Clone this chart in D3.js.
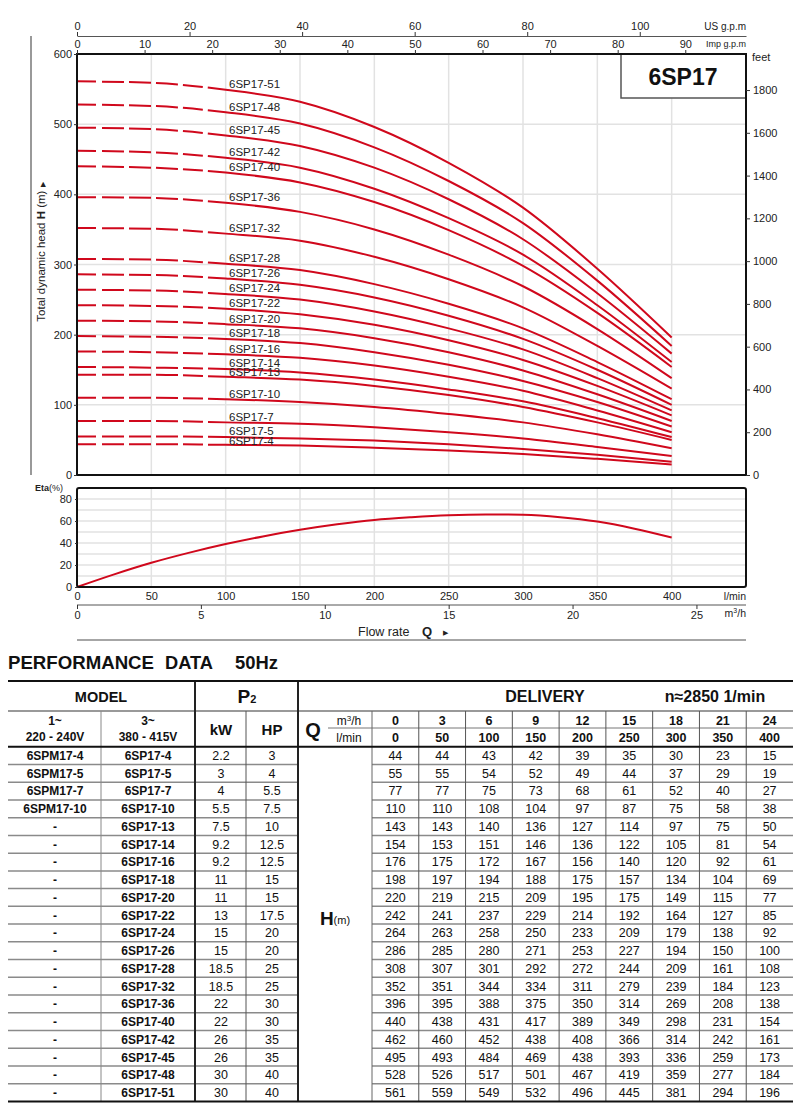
<!DOCTYPE html>
<html><head><meta charset="utf-8">
<script src="https://cdn.jsdelivr.net/npm/d3@7"></script>
<style>body{margin:0;background:#fff;} svg{display:block;font-family:"Liberation Sans",Arial,sans-serif;}</style>
</head><body><svg id="c" width="800" height="1119"></svg>
<script>
// ---------- DATA ----------
const flowLmin = [0,50,100,150,200,250,300,350,400];
const flowM3h = [0,3,6,9,12,15,18,21,24];
const models1 = ["6SPM17-4","6SPM17-5","6SPM17-7","6SPM17-10","-","-","-","-","-","-","-","-","-","-","-","-","-","-","-","-"];
const models3 = ["6SP17-4","6SP17-5","6SP17-7","6SP17-10","6SP17-13","6SP17-14","6SP17-16","6SP17-18","6SP17-20","6SP17-22","6SP17-24","6SP17-26","6SP17-28","6SP17-32","6SP17-36","6SP17-40","6SP17-42","6SP17-45","6SP17-48","6SP17-51"];
const powerKW = ["2.2","3","4","5.5","7.5","9.2","9.2","11","11","13","15","15","18.5","18.5","22","22","26","26","30","30"];
const powerHP = ["3","4","5.5","7.5","10","12.5","12.5","15","15","17.5","20","20","25","25","30","30","35","35","40","40"];
const heads = [
 [44,44,43,42,39,35,30,23,15],
 [55,55,54,52,49,44,37,29,19],
 [77,77,75,73,68,61,52,40,27],
 [110,110,108,104,97,87,75,58,38],
 [143,143,140,136,127,114,97,75,50],
 [154,153,151,146,136,122,105,81,54],
 [176,175,172,167,156,140,120,92,61],
 [198,197,194,188,175,157,134,104,69],
 [220,219,215,209,195,175,149,115,77],
 [242,241,237,229,214,192,164,127,85],
 [264,263,258,250,233,209,179,138,92],
 [286,285,280,271,253,227,194,150,100],
 [308,307,301,292,272,244,209,161,108],
 [352,351,344,334,311,279,239,184,123],
 [396,395,388,375,350,314,269,208,138],
 [440,438,431,417,389,349,298,231,154],
 [462,460,452,438,408,366,314,242,161],
 [495,493,484,469,438,393,336,259,173],
 [528,526,517,501,467,419,359,277,184],
 [561,559,549,532,496,445,381,294,196]
];
const etaQ = [0,25,50,75,100,125,150,175,200,225,250,275,300,325,350,375,400];
const etaVal = [0,11.5,22,31,39,46,52,57,61,63.5,65.3,66,65.6,63.5,59.5,53,45];
const headTicks = [0,100,200,300,400,500,600];
const feetTicks = [0,200,400,600,800,1000,1200,1400,1600,1800];
const usTicks = [0,20,40,60,80,100];
const impTicks = [0,10,20,30,40,50,60,70,80,90];
const lminTicks = [0,50,100,150,200,250,300,350,400];
const m3hTicks = [0,5,10,15,20,25];
const etaTicks = [0,20,40,60,80];
const etaGrid = [10,20,30,40,50,60,70,80];

// ---------- SETUP ----------
const svg = d3.select("#c");
const RED = "#d0081c";
const X0 = 77, X1 = 746;
const x = d3.scaleLinear().domain([0,450]).range([X0,X1]);
const y = d3.scaleLinear().domain([0,600]).range([475,54]);
const yFt = d3.scaleLinear().domain([0,600/0.3048]).range([475,54]);
const xUS = d3.scaleLinear().domain([0,450/3.78541]).range([X0,X1]);
const xImp = d3.scaleLinear().domain([0,450/4.54609]).range([X0,X1]);
const xM3 = d3.scaleLinear().domain([0,27]).range([X0,X1]);
const yEta = d3.scaleLinear().domain([0,90]).range([587,488]);
const fmt = d3.format("d");

function styleAxis(g, size){
  g.selectAll("text").attr("font-size", size||11).attr("fill","#222").attr("font-family","Liberation Sans, Arial, sans-serif");
  g.selectAll("line").attr("stroke","#333");
  g.selectAll("path.domain").attr("stroke","#333");
}

// ---------- MAIN GRID ----------
const grid = svg.append("g").attr("stroke","#e2e2e2").attr("stroke-width",1.5);
grid.selectAll("line.v").data(lminTicks.slice(1)).join("line").attr("class","v")
  .attr("x1",d=>x(d)).attr("x2",d=>x(d)).attr("y1",54).attr("y2",475);
grid.selectAll("line.h").data(headTicks.slice(1,-1)).join("line").attr("class","h")
  .attr("x1",X0).attr("x2",X1).attr("y1",d=>y(d)).attr("y2",d=>y(d));

// ---------- CURVES ----------
const line = d3.line().x((d,i)=>x(flowLmin[i])).y(d=>y(d)).curve(d3.curveMonotoneX);
svg.append("g").selectAll("path").data(heads).join("path")
  .attr("d",line).attr("fill","none").attr("stroke",RED).attr("stroke-width",2)
  .attr("stroke-dasharray","19,6,22,5,22,5,22,5,20,5,3000");
const labelNudge = {"6SP17-4":1.2,"6SP17-5":-1,"6SP17-13":1.2,"6SP17-14":-1};
svg.append("g").selectAll("text").data(models3).join("text")
  .attr("x",229).attr("y",(d,i)=>y(heads[i][2])-1.5+(labelNudge[d]||0))
  .attr("font-size",11.5).attr("fill","#222").text(d=>d);

// ---------- BOX ----------
svg.append("rect").attr("x",621).attr("y",54).attr("width",125).attr("height",44)
  .attr("fill","#fff").attr("stroke","#555").attr("stroke-width",1.5);
svg.append("text").attr("x",683).attr("y",85).attr("text-anchor","middle")
  .attr("font-size",23).attr("font-weight","bold").attr("fill","#111").text("6SP17");

// frame
svg.append("rect").attr("x",X0).attr("y",54).attr("width",X1-X0).attr("height",421)
  .attr("fill","none").attr("stroke","#111").attr("stroke-width",2);

// ---------- AXES MAIN ----------
const gl = svg.append("g").attr("transform",`translate(${X0},0)`)
  .call(d3.axisLeft(y).tickValues(headTicks).tickFormat(fmt).tickSize(3).tickPadding(2));
gl.select(".domain").remove(); styleAxis(gl,11);
const gr = svg.append("g").attr("transform",`translate(${X1},0)`)
  .call(d3.axisRight(yFt).tickValues(feetTicks).tickFormat(fmt).tickSize(4).tickPadding(3));
gr.select(".domain").remove(); styleAxis(gr,11);
svg.append("text").attr("x",752).attr("y",61).attr("font-size",11).attr("fill","#222").text("feet");

const gu = svg.append("g").attr("transform","translate(0,36)")
  .call(d3.axisTop(xUS).tickValues(usTicks).tickFormat(fmt).tickSize(4).tickSizeOuter(0).tickPadding(2));
styleAxis(gu,11); gu.select(".domain").attr("stroke","#555");
svg.append("text").attr("x",746).attr("y",30).attr("text-anchor","end").attr("font-size",10).attr("fill","#222").text("US g.p.m");
const gi = svg.append("g").attr("transform","translate(0,54)")
  .call(d3.axisTop(xImp).tickValues(impTicks).tickFormat(fmt).tickSize(4).tickSizeOuter(0).tickPadding(2));
gi.select(".domain").remove(); styleAxis(gi,11);
svg.append("text").attr("x",746).attr("y",47).attr("text-anchor","end").attr("font-size",9).attr("fill","#222").text("Imp g.p.m");

// left side label + line
svg.append("line").attr("x1",31).attr("x2",31).attr("y1",36).attr("y2",475).attr("stroke","#777").attr("stroke-width",1.5);
const yl = svg.append("text").attr("transform","translate(45,252) rotate(-90)").attr("text-anchor","middle")
  .attr("font-size",11.5).attr("fill","#222");
yl.append("tspan").text("Total dynamic head ");
yl.append("tspan").attr("font-weight","bold").text("H");
yl.append("tspan").text(" (m) ");
yl.append("tspan").attr("font-size",7).text("▶");

// ---------- ETA CHART ----------
const eg = svg.append("g").attr("stroke","#e2e2e2").attr("stroke-width",1.5);
eg.selectAll("line.v").data(lminTicks.slice(1)).join("line").attr("class","v")
  .attr("x1",d=>x(d)).attr("x2",d=>x(d)).attr("y1",488).attr("y2",587);
eg.selectAll("line.h").data(etaGrid).join("line").attr("class","h")
  .attr("x1",X0).attr("x2",X1).attr("y1",d=>yEta(d)).attr("y2",d=>yEta(d));
const etaLine = d3.line().x((d,i)=>x(etaQ[i])).y(d=>yEta(d)).curve(d3.curveMonotoneX);
svg.append("path").datum(etaVal).attr("d",etaLine).attr("fill","none").attr("stroke",RED).attr("stroke-width",2);
svg.append("rect").attr("x",X0).attr("y",488).attr("width",X1-X0).attr("height",99).attr("rx",2)
  .attr("fill","none").attr("stroke","#111").attr("stroke-width",2);
const ge = svg.append("g").attr("transform",`translate(${X0},0)`)
  .call(d3.axisLeft(yEta).tickValues(etaTicks).tickSize(2).tickPadding(3));
ge.select(".domain").remove(); styleAxis(ge,11);
const et = svg.append("text").attr("x",35).attr("y",491).attr("font-size",9).attr("fill","#222");
et.append("tspan").attr("font-weight","bold").text("Eta");
et.append("tspan").text("(%)");

const gb = svg.append("g").attr("transform","translate(0,587)")
  .call(d3.axisBottom(x).tickValues(lminTicks).tickSize(0).tickPadding(5));
gb.select(".domain").remove(); styleAxis(gb,11);
svg.append("text").attr("x",746).attr("y",600).attr("text-anchor","end").attr("font-size",10.5).attr("fill","#222").text("l/min");
const gm = svg.append("g").attr("transform","translate(0,605)")
  .call(d3.axisBottom(xM3).tickValues(m3hTicks).tickSize(4).tickSizeOuter(0).tickPadding(2));
styleAxis(gm,11); gm.select(".domain").attr("stroke","#555").attr("d",`M${X0},0H${X1}`);
const mh = svg.append("text").attr("x",746).attr("y",617).attr("text-anchor","end").attr("font-size",10.5).attr("fill","#222");
mh.append("tspan").text("m");
mh.append("tspan").attr("font-size",7).attr("dy",-4).text("3");
mh.append("tspan").attr("dy",4).text("/h");
const fr = svg.append("text").attr("x",358).attr("y",636).attr("font-size",12.5).attr("fill","#222");
fr.append("tspan").text("Flow  rate");
fr.append("tspan").attr("x",422).attr("font-weight","bold").attr("font-size",13).text("Q");
fr.append("tspan").attr("x",443).attr("font-size",7).attr("dy",-1).text("▶");
svg.append("line").attr("x1",X0).attr("x2",X1).attr("y1",640).attr("y2",640).attr("stroke","#888").attr("stroke-width",1.5);

// ---------- TABLE ----------
const t = svg.append("g");
function ttlPart(xp, s, len){
  t.append("text").attr("x",xp).attr("y",669).attr("font-size",18.5).attr("font-weight","bold").attr("fill","#111")
    .attr("textLength",len).attr("lengthAdjust","spacingAndGlyphs").text(s);
}
ttlPart(8,"PERFORMANCE",146);
ttlPart(165,"DATA",48);
ttlPart(235,"50Hz",43);

const TL = 8, TR = 793, T0 = 681, T1 = 711, T2 = 746.7, TB = 1101.5;
const rowH = (TB-T2)/models3.length;
const nx0 = 372, nW = (TR-nx0)/flowLmin.length;
const colC = i => nx0 + (i+0.5)*nW;

function hl(y,x1,x2,c,w){ t.append("line").attr("x1",x1).attr("x2",x2).attr("y1",y).attr("y2",y).attr("stroke",c).attr("stroke-width",w); }
function vl(xp,y1,y2,c,w){ t.append("line").attr("x1",xp).attr("x2",xp).attr("y1",y1).attr("y2",y2).attr("stroke",c).attr("stroke-width",w); }

d3.range(1,models3.length).forEach(i=>{
  const yy = T2 + i*rowH;
  hl(yy,TL,298,"#8a8a8a",1.5); hl(yy,372,TR,"#8a8a8a",1.5);
});
hl(T1,TL,TR,"#777",1.5);
hl(728,328,TR,"#777",1);
vl(101,T1,TB,"#888",1);
vl(246,T1,TB,"#555",1);
vl(372,T1,TB,"#666",1);
d3.range(1,flowLmin.length).forEach(k=>vl(nx0+k*nW,T1,TB,"#555",1));
vl(195,T0,TB,"#222",2);
vl(298,T0,TB,"#222",2);
hl(T0,TL,TR,"#111",2);
hl(T2,TL,TR,"#111",2);
hl(TB,TL,TR,"#111",2);

function tx(xp,yp,s,size,bold,anchor){
  return t.append("text").attr("x",xp).attr("y",yp).attr("font-size",size).attr("font-weight",bold?"bold":"normal")
    .attr("text-anchor",anchor||"middle").attr("fill","#111").text(s);
}
tx(101,702,"MODEL",14.5,true);
const p2 = tx(247,703,"",19,true);
p2.append("tspan").text("P");
p2.append("tspan").attr("font-size",11).text("2");
tx(545,702,"DELIVERY",16,true);
tx(715,702,"n≈2850 1/min",16,true);

tx(55,725,"1~",12,true); tx(55,741,"220 - 240V",12,true);
tx(148,725,"3~",12,true); tx(148,741,"380 - 415V",12,true);
tx(221,735,"kW",15,true); tx(272,735,"HP",15,true);
tx(313,737,"Q",20,true);
const m3 = tx(349,725,"",12,false);
m3.append("tspan").text("m"); m3.append("tspan").attr("font-size",8).attr("dy",-4).text("3"); m3.append("tspan").attr("dy",4).text("/h");
tx(349,742,"l/min",12,false);
flowM3h.forEach((v,i)=>tx(colC(i),724.5,v,12.5,true));
flowLmin.forEach((v,i)=>tx(colC(i),741.5,v,12.5,true));

const hm = tx(335,925,"",19,true);
hm.append("tspan").text("H");
hm.append("tspan").attr("font-size",11).attr("font-weight","normal").attr("dy",-1).text("(m)");

const rows = t.selectAll("g.r").data(models3).join("g").attr("class","r")
  .attr("transform",(d,i)=>`translate(0,${T2+(i+0.5)*rowH+4.4})`);
rows.append("text").attr("x",55).attr("text-anchor","middle").attr("font-size",12).attr("font-weight","bold").attr("fill","#111").text((d,i)=>models1[i]);
rows.append("text").attr("x",148).attr("text-anchor","middle").attr("font-size",12).attr("font-weight","bold").attr("fill","#111").text(d=>d);
rows.append("text").attr("x",221).attr("text-anchor","middle").attr("font-size",12.5).attr("fill","#111").text((d,i)=>powerKW[i]);
rows.append("text").attr("x",272).attr("text-anchor","middle").attr("font-size",12.5).attr("fill","#111").text((d,i)=>powerHP[i]);
rows.each(function(d,i){
  d3.select(this).selectAll("text.n").data(heads[i]).join("text").attr("class","n")
    .attr("x",(v,k)=>colC(k)).attr("text-anchor","middle").attr("font-size",12.5).attr("fill","#111").text(v=>v);
});
</script></body></html>
